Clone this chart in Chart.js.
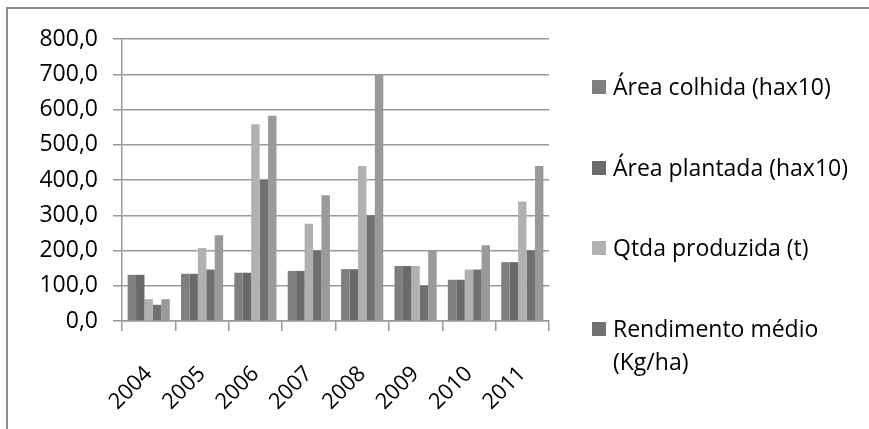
<!DOCTYPE html>
<html>
<head>
<meta charset="utf-8">
<script src="https://cdn.jsdelivr.net/npm/chart.js@4/dist/chart.umd.min.js"></script>
<style>
  html, body { margin: 0; padding: 0; background: #fff; }
  #wrap { position: relative; width: 869px; height: 429px; overflow: hidden; background: #fff; }
  #frame { position: absolute; left: 6px; top: 7px; width: 1000px; height: 1000px; border: 2px solid #8c8c8c; box-sizing: border-box; }
  #c { position: absolute; left: 0; top: 0; }
  #legend { position: absolute; left: 0; top: 0; font-family: "Open Sans", sans-serif; font-size: 23px; color: #000; }
  .item { position: absolute; left: 592px; display: flex; align-items: flex-start; }
  .box { width: 14px; height: 14px; margin-top: 10px; margin-right: 7px; flex: none; }
  .txt { width: 255px; line-height: 33px; }
</style>
</head>
<body>
<div id="wrap">
  <div id="frame"></div>
  <canvas id="c" width="869" height="429"></canvas>
  <div id="legend"></div>
</div>
<script>
const anos = ['2004', '2005', '2006', '2007', '2008', '2009', '2010', '2011'];
const areaColhida = [131, 134, 137, 142, 147, 156, 117, 167];
const areaPlantada = [131, 134, 137, 142, 147, 156, 117, 167];
const qtdaProduzida = [62, 207, 558, 276, 440, 156, 146, 339];
const rendimentoMedio = [46, 146, 400, 200, 300, 100, 146, 200];
const serieSemNome = [62, 243, 582, 357, 700, 200, 215, 440];
const yTicks = [0, 100, 200, 300, 400, 500, 600, 700, 800];

const series = [
  { label: 'Área colhida (hax10)', data: areaColhida, color: '#7f7f7f', legend: true },
  { label: 'Área plantada (hax10)', data: areaPlantada, color: '#6a6a6a', legend: true },
  { label: 'Qtda produzida (t)', data: qtdaProduzida, color: '#b1b1b1', legend: true },
  { label: 'Rendimento médio (Kg/ha)', data: rendimentoMedio, color: '#707070', legend: true },
  { label: '', data: serieSemNome, color: '#9a9a9a', legend: false }
];

const fontFam = '"Open Sans", sans-serif';

new Chart(document.getElementById('c'), {
  type: 'bar',
  data: {
    labels: anos,
    datasets: series.map(s => ({
      label: s.label,
      data: s.data,
      backgroundColor: s.color,
      borderWidth: 0,
      categoryPercentage: 0.79,
      barPercentage: 1.0
    }))
  },
  options: {
    responsive: false,
    animation: false,
    events: [],
    layout: { padding: { left: 0, right: 320, top: 39, bottom: 0 } },
    plugins: { legend: { display: false }, tooltip: { enabled: false } },
    scales: {
      x: {
        grid: { display: true, drawOnChartArea: false, drawTicks: true, tickLength: 10, color: '#9a9a9a', lineWidth: 1.5, offset: true },
        border: { display: true, color: '#9a9a9a', width: 1.5 },
        ticks: { color: '#000', font: { family: fontFam, size: 22 }, minRotation: 45, maxRotation: 45, padding: 30, autoSkip: false },
        afterFit: (s) => { s.height = 108; }
      },
      y: {
        min: 0, max: 800,
        afterBuildTicks: (s) => { s.ticks = yTicks.map(v => ({ value: v })); },
        grid: { color: '#9a9a9a', lineWidth: 1.5, tickLength: 9, drawTicks: true },
        border: { display: true, color: '#9a9a9a', width: 1.5 },
        ticks: {
          color: '#000', font: { family: fontFam, size: 23 }, padding: 15,
          callback: (v) => v.toFixed(1).replace('.', ',')
        },
        afterFit: (s) => { s.width = 122; }
      }
    }
  }
});

// legend built from the series list
const legend = document.getElementById('legend');
series.filter(s => s.legend).forEach((s, i) => {
  const item = document.createElement('div');
  item.className = 'item';
  item.style.top = (70 + i * 80.7) + 'px';
  const box = document.createElement('div');
  box.className = 'box';
  box.style.background = s.color;
  const txt = document.createElement('div');
  txt.className = 'txt';
  txt.textContent = s.label;
  item.appendChild(box);
  item.appendChild(txt);
  legend.appendChild(item);
});
</script>
</body>
</html>
